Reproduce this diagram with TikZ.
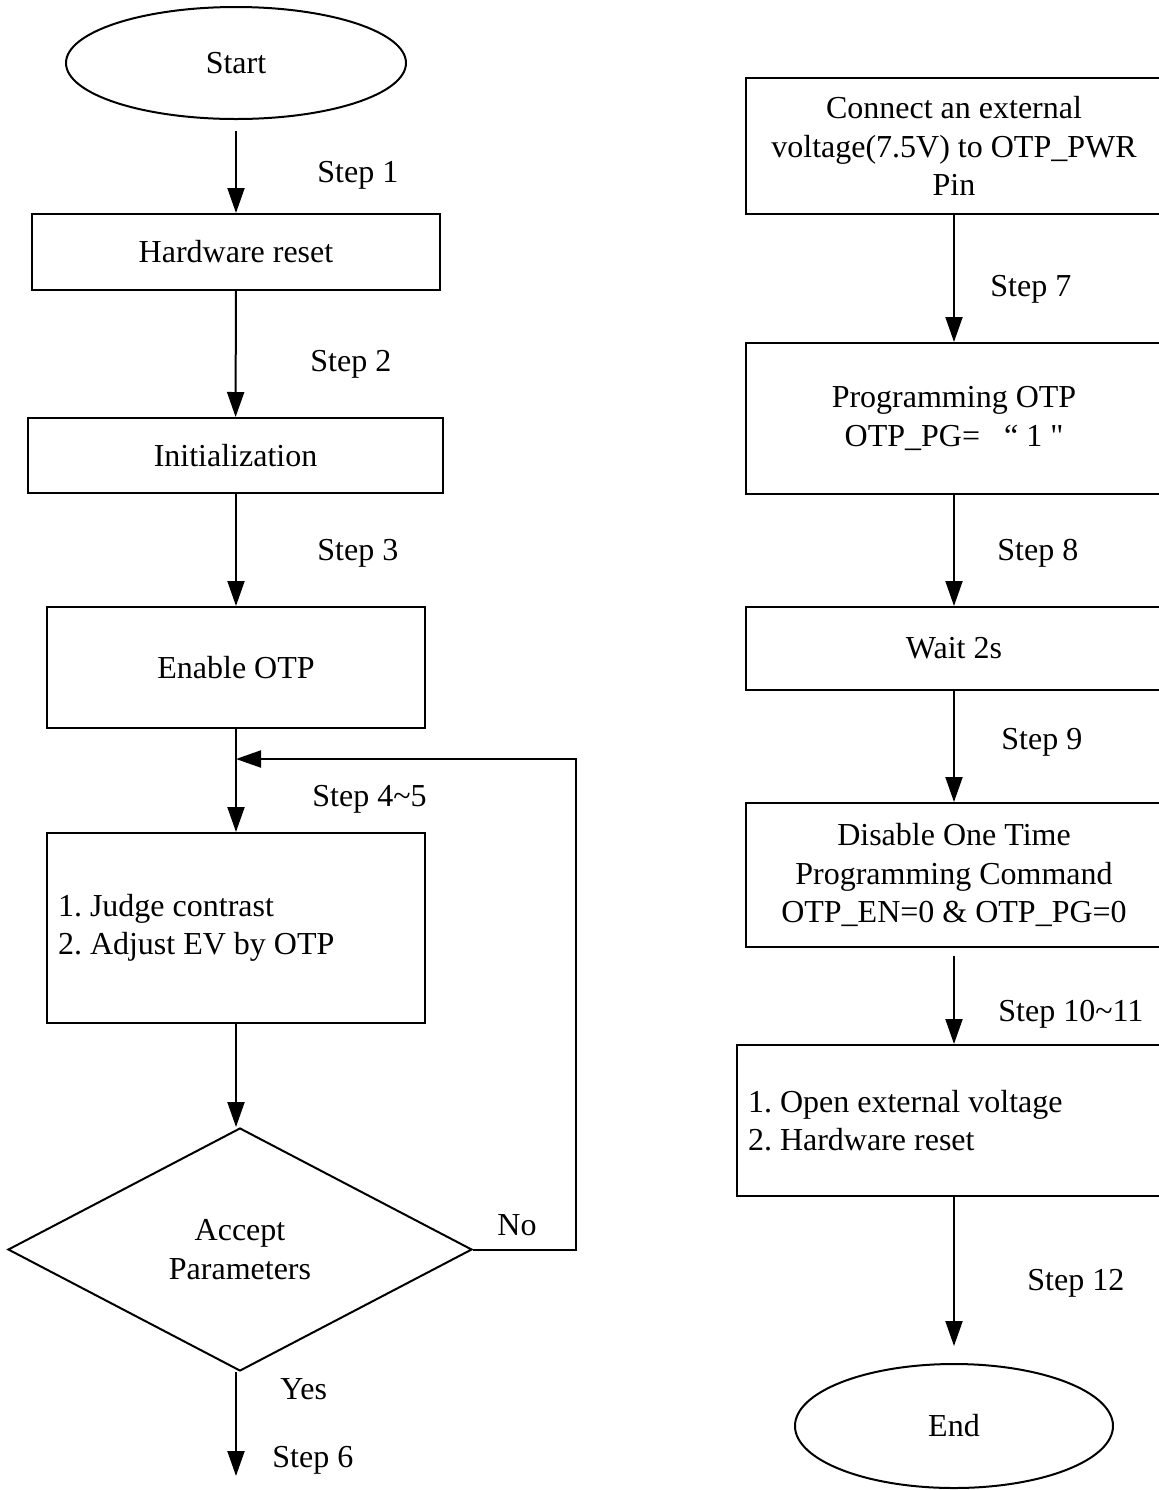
\documentclass[tikz,border=0pt]{standalone}
\usepackage{fontspec}
\setmainfont{Liberation Serif}[Ligatures=TeXOff]
\usepackage{tikz}
\usetikzlibrary{shapes.geometric}
\usetikzlibrary{arrows.meta}
\tikzset{
  Kasten/.style={draw,line width=1pt,rectangle,inner sep=0pt,align=center}, % Rechtecke
  LKasten/.style={Kasten,align=flush left,inner xsep=5.5pt}, % linksbuendige Rechtecke
  Oval/.style={draw,line width=1pt,ellipse,inner sep=0pt}, % Start / Ende
  Raute/.style={draw,line width=1pt,diamond,inner sep=0pt,align=center}, % Abfrage
  Pfeil/.style={line width=1pt,-{Triangle[length=12.5pt,width=8.5pt]}}, % Ablaufpfeile
  Marke/.style={anchor=west,inner sep=0pt} % Schrittbeschriftung
}

\begin{document}
\begin{tikzpicture}[
x=0.5pt,y=-0.5pt,
font=\fontsize{16}{19.3}\selectfont\frenchspacing
]
\path[use as bounding box,clip] (0,0) rectangle (1159,1490);

%Linke Spalte
\node[Oval,minimum width=170pt,minimum height=56pt] (Start) at (236,63) {Start};
\node[Kasten,minimum width=204pt,minimum height=38pt] (Reset) at (236,252) {Hardware reset};
\node[Kasten,minimum width=207.5pt,minimum height=37.5pt] (Init) at (235.5,455.5) {Initialization};
\node[Kasten,minimum width=189pt,minimum height=60.5pt] (Enable) at (236,667.5) {Enable OTP};
\node[LKasten,text width=178pt,minimum height=95pt] (Judge) at (236,928)
  {1. Judge contrast\\2. Adjust EV by OTP};
\node[Raute,minimum width=232pt,minimum height=121.5pt] (Abfrage) at (240,1249.5)
  {Accept\\Parameters};

%Rechte Spalte
\node[Kasten,minimum width=208pt,minimum height=68pt] (Anschluss) at (954,146)
  {Connect an external\\voltage(7.5V) to OTP\_PWR\\Pin};
\node[Kasten,minimum width=208pt,minimum height=75.5pt] (Prog) at (954,418.5)
  {Programming OTP\\OTP\_PG=\ \ \ “ 1 "};
\node[Kasten,minimum width=208pt,minimum height=41.5pt] (Warte) at (954,648.5) {Wait 2s};
\node[Kasten,minimum width=208pt,minimum height=72pt] (Sperre) at (954,875)
  {Disable One Time\\Programming Command\\OTP\_EN=0 \& OTP\_PG=0};
\node[LKasten,text width=206pt,minimum height=75.5pt] (Offen) at (954,1120.5)
  {1. Open external voltage\\2. Hardware reset};
\node[Oval,minimum width=159pt,minimum height=62pt] (Ende) at (954,1426) {End};

%Hilfspunkte
\coordinate (Ecke) at (576,759);
\coordinate (Rueck) at (236,759);
\coordinate (Weiter) at (236,1476);

%Pfeile
\draw[Pfeil,shorten <=5.5pt] (Start) -- (Reset);
\draw[Pfeil] (Reset) -- (Init);
\draw[Pfeil] (Init.south -| Enable.north) -- (Enable);
\draw[Pfeil] (Enable) -- (Judge);
\draw[Pfeil] (Judge.south) -- (Judge.south |- Abfrage.north);
\draw[Pfeil] (Weiter |- Abfrage.south) -- (Weiter);
\draw[Pfeil] (Abfrage.east) -| (Ecke) -- (Rueck);
\draw[Pfeil] (Anschluss) -- (Prog);
\draw[Pfeil] (Prog) -- (Warte);
\draw[Pfeil] (Warte) -- (Sperre);
\draw[Pfeil,shorten <=4pt] (Sperre) -- (Offen);
\draw[Pfeil,shorten >=8.5pt] (Offen) -- (Ende);

%Beschriftungen
\node[Marke] (s1) at (317,175) {Step 1};
\node[Marke] (s2) at (310,364) {Step 2};
\node[Marke] (s3) at (317,553) {Step 3};
\node[Marke] (s45) at (312,799) {Step 4\textasciitilde 5};
\node[Marke] (nein) at (497,1225) {No};
\node[Marke] (ja) at (280,1389) {Yes};
\node[Marke] (s6) at (272,1460) {Step 6};
\node[Marke] (s7) at (990,289) {Step 7};
\node[Marke] (s8) at (997,553) {Step 8};
\node[Marke] (s9) at (1001,742) {Step 9};
\node[Marke] (s1011) at (998,1014) {Step 10\textasciitilde 11};
\node[Marke] (s12) at (1027,1283) {Step 12};

\end{tikzpicture}
\end{document}
